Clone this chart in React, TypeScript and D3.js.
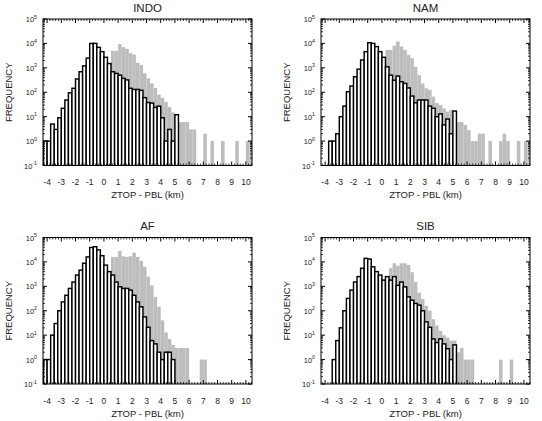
import React from 'react';
import * as d3 from 'd3';

// Histogram bins: lower edges start at -4.25 km, width 0.25 km (59 bins up to 10.25)
const binStart = -4.25;
const binWidth = 0.25;
const xTickValues = d3.range(-4, 11, 1);
const yTickExponents = [-1, 0, 1, 2, 3, 4, 5];

const titles = ['INDO', 'NAM', 'AF', 'SIB'];

// black-outlined histogram (white fill)
const indoBlack = [1, 1, 5, 3, 9, 22, 48, 95, 145, 350, 690, 1200, 2500, 10000, 10000, 6900, 4600, 2700, 1500, 690, 590, 500, 370, 320, 145, 130, 130, 120, 60, 38, 36, 24, 27, 9, 1, 3, 1, 12, 0, 0, 0, 0, 0, 0, 0, 0, 0, 0, 0, 0, 0, 0, 0, 0, 0, 0, 0, 0, 0];
const namBlack = [0, 0, 1, 1, 2, 10, 27, 105, 180, 430, 880, 2100, 4600, 10700, 10000, 7400, 4600, 2700, 1100, 500, 310, 460, 270, 230, 150, 70, 37, 48, 48, 48, 27, 22, 10, 13, 4.6, 8, 2, 17, 0, 0, 0, 0, 0, 0, 0, 0, 0, 0, 0, 0, 0, 0, 0, 0, 0, 0, 0, 0, 0];
const afBlack = [1, 1, 10, 30, 100, 230, 430, 820, 1500, 2900, 4600, 8800, 16000, 39000, 42000, 31000, 18000, 7400, 4000, 2900, 1500, 960, 820, 820, 700, 430, 230, 145, 56, 21, 6, 4.4, 2, 1, 2, 2, 1, 0, 0, 0, 0, 0, 0, 0, 0, 0, 0, 0, 0, 0, 0, 0, 0, 0, 0, 0, 0, 0, 0];
const sibBlack = [0, 0, 0, 1, 6, 20, 100, 320, 700, 1500, 2500, 5500, 14000, 13000, 6300, 4000, 2900, 1800, 2500, 1800, 2500, 1100, 1500, 950, 370, 270, 200, 170, 100, 35, 21, 7, 5, 7, 4.4, 2.8, 1, 4, 0, 0, 0, 0, 0, 0, 0, 0, 0, 0, 0, 0, 0, 0, 0, 0, 0, 0, 0, 0, 0];

// gray filled histogram
const indoGray = [0, 0, 0, 0, 0, 0, 0, 0, 0, 0, 0, 0, 0, 0, 0, 0, 0, 0, 0, 5000, 5000, 9500, 7000, 6000, 4000, 3500, 1600, 1300, 600, 370, 230, 150, 80, 60, 40, 25, 15, 12, 6, 6, 6, 3, 3, 0, 0, 2, 0, 1, 0, 0, 1, 0, 0, 0, 1, 0, 0, 1, 1];
const namGray = [0, 0, 0, 0, 0, 0, 0, 0, 0, 0, 0, 0, 0, 0, 0, 0, 0, 0, 5400, 5400, 8000, 12000, 7500, 5400, 3400, 2500, 1100, 500, 230, 145, 125, 66, 36, 30, 22, 16, 19, 17, 6, 6, 4.5, 2.8, 1, 1, 2, 2, 0, 1, 0, 0, 1, 2, 1, 0, 0, 1, 0, 1, 1];
const afGray = [0, 0, 0, 0, 0, 0, 0, 0, 0, 0, 0, 0, 0, 0, 0, 0, 0, 0, 0, 16000, 16000, 28000, 17000, 16000, 17000, 24000, 16000, 11000, 6300, 2500, 1100, 370, 145, 40, 13, 7, 4, 3, 3, 3, 3, 0, 0, 0, 1, 1, 0, 0, 0, 0, 0, 0, 0, 0, 0, 0, 0, 0, 0];
const sibGray = [0, 0, 0, 0, 0, 0, 0, 0, 0, 0, 0, 0, 0, 0, 0, 0, 0, 0, 0, 5500, 8800, 7000, 8800, 8800, 7500, 3800, 1500, 550, 300, 160, 100, 45, 25, 15, 10, 8, 6, 6, 2, 3, 1, 1, 1, 0, 0, 0, 0, 0, 0, 0, 1, 0, 0, 1, 0, 0, 0, 0, 0];

const FONT = '"Liberation Sans", Arial, Helvetica, sans-serif';
const PW = 209;
const PH = 146.5;

type PanelProps = { id: string; x0: number; y0: number; title: string; black: number[]; gray: number[] };

function Panel({ id, x0, y0, title, black, gray }: PanelProps) {
  const x = d3.scaleLinear().domain([-4.29, 10.43]).range([x0, x0 + PW]);
  const y = d3.scaleLog().domain([0.1, 1e5]).range([y0 + PH, y0]);
  const toBins = (vals: number[]) =>
    vals.map((v, i) => ({ lo: binStart + i * binWidth, v })).filter((d) => d.v > 0);
  const grayBins = toBins(gray);
  const blackBins = toBins(black);
  const bottom = y0 + PH;

  const minorY: number[] = [];
  for (let e = -1; e < 5; e++) for (let m = 2; m <= 9; m++) minorY.push(m * Math.pow(10, e));
  const minorX = d3.range(-4.2, 10.41, 0.2).filter((v) => Math.abs(v - Math.round(v)) > 0.01);

  return (
    <g>
      <defs>
        <clipPath id={`clip-${id}`}>
          <rect x={x0} y={y0} width={PW} height={PH} />
        </clipPath>
      </defs>
      <g clipPath={`url(#clip-${id})`}>
        {grayBins.map((d, i) => (
          <rect key={`g${i}`} x={x(d.lo)} width={x(d.lo + binWidth) - x(d.lo)} y={y(d.v)} height={bottom - y(d.v)} fill="#bdbdbd" />
        ))}
        {blackBins.map((d, i) => (
          <rect key={`b${i}`} x={x(d.lo)} width={x(d.lo + binWidth) - x(d.lo)} y={y(d.v)} height={bottom - y(d.v) + 2} fill="#fff" stroke="#000" strokeWidth={1.45} />
        ))}
      </g>
      {yTickExponents.map((e) => (
        <g key={`yt${e}`}>
          <line x1={x0} x2={x0 + 4} y1={y(Math.pow(10, e))} y2={y(Math.pow(10, e))} stroke="#000" strokeWidth={1} />
          <line x1={x0 + PW} x2={x0 + PW - 4} y1={y(Math.pow(10, e))} y2={y(Math.pow(10, e))} stroke="#000" strokeWidth={1} />
          <text x={x0 - 6} y={y(Math.pow(10, e)) + 3} textAnchor="end" fontFamily={FONT} fontSize={7.5} fill="#222">
            10<tspan dy={-3.5} fontSize={5.2}>{e}</tspan>
          </text>
        </g>
      ))}
      {minorY.map((v, i) => (
        <g key={`ym${i}`}>
          <line x1={x0} x2={x0 + 2} y1={y(v)} y2={y(v)} stroke="#000" strokeWidth={0.8} />
          <line x1={x0 + PW} x2={x0 + PW - 2} y1={y(v)} y2={y(v)} stroke="#000" strokeWidth={0.8} />
        </g>
      ))}
      {xTickValues.map((v) => (
        <g key={`xt${v}`}>
          <line x1={x(v)} x2={x(v)} y1={bottom} y2={bottom - 4} stroke="#000" strokeWidth={1} />
          <line x1={x(v)} x2={x(v)} y1={y0} y2={y0 + 4} stroke="#000" strokeWidth={1} />
          <text x={x(v)} y={bottom + 19.5} textAnchor="middle" fontFamily={FONT} fontSize={8.5} fill="#222">
            {v}
          </text>
        </g>
      ))}
      {minorX.map((v, i) => (
        <g key={`xm${i}`}>
          <line x1={x(v)} x2={x(v)} y1={bottom} y2={bottom - 2} stroke="#000" strokeWidth={0.8} />
          <line x1={x(v)} x2={x(v)} y1={y0} y2={y0 + 2} stroke="#000" strokeWidth={0.8} />
        </g>
      ))}
      <rect x={x0} y={y0} width={PW} height={PH} fill="none" stroke="#000" strokeWidth={1} />
      <text x={x0 + PW / 2} y={y0 - 7.5} textAnchor="middle" fontFamily={FONT} fontSize={11.5} fill="#222">
        {title}
      </text>
      <text x={x0 + PW / 2} y={bottom + 32.5} textAnchor="middle" fontFamily={FONT} fontSize={9.5} fill="#222">
        ZTOP - PBL (km)
      </text>
      <text
        transform={`translate(${x0 - 31},${y0 + PH / 2}) rotate(-90)`}
        textAnchor="middle"
        fontFamily={FONT}
        fontSize={9.5}
        fill="#222"
      >
        FREQUENCY
      </text>
    </g>
  );
}

export default function App() {
  const panels = [
    { id: 'indo', x0: 43, y0: 19, black: indoBlack, gray: indoGray },
    { id: 'nam', x0: 321, y0: 19, black: namBlack, gray: namGray },
    { id: 'af', x0: 43, y0: 237.5, black: afBlack, gray: afGray },
    { id: 'sib', x0: 321, y0: 237.5, black: sibBlack, gray: sibGray },
  ];
  return (
    <div style={{ position: 'absolute', left: 0, top: 0 }}>
      <svg width={542} height={421} style={{ display: 'block', background: '#fff' }}>
        {panels.map((p, i) => (
          <Panel key={p.id} id={p.id} x0={p.x0} y0={p.y0} title={titles[i]} black={p.black} gray={p.gray} />
        ))}
      </svg>
    </div>
  );
}
